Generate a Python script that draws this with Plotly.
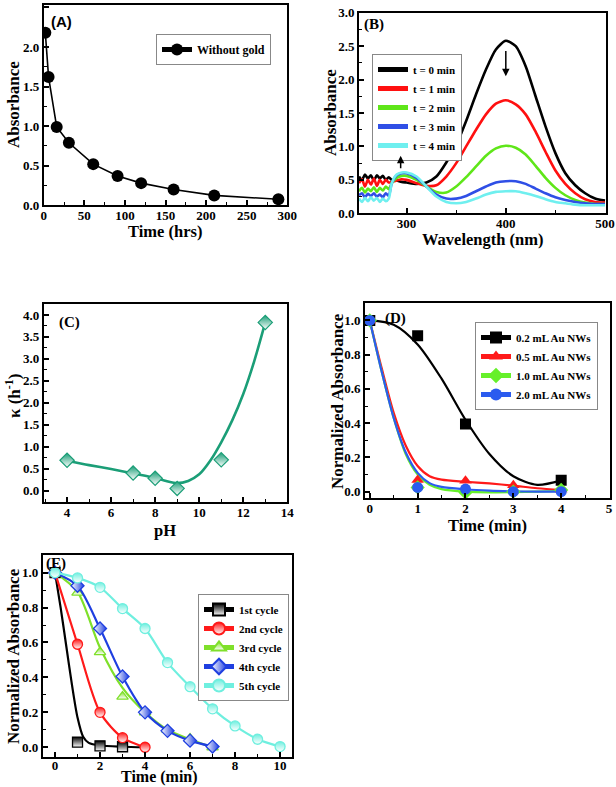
import plotly.graph_objects as go

# ---------------- data ----------------
# (A) Absorbance vs time without gold
a_time = [2, 6, 16, 31, 61, 91, 120, 160, 210, 289]
a_abs = [2.18, 1.62, 0.99, 0.79, 0.52, 0.37, 0.28, 0.20, 0.125, 0.076]

# (B) UV-vis spectra
b_wl = [252, 255, 258, 261, 264, 267, 270, 273, 276, 279, 282, 285, 290, 295, 300,
        310, 320, 330, 340, 350, 360, 370, 380, 390, 400, 410, 420, 430, 440, 450,
        460, 470, 480, 490, 500]
b_t0 = [0.55, 0.50, 0.58, 0.52, 0.57, 0.49, 0.57, 0.52, 0.56, 0.50, 0.54, 0.50, 0.49, 0.47, 0.46,
        0.44, 0.46, 0.55, 0.76, 1.02, 1.38, 1.78, 2.15, 2.45, 2.58, 2.50, 2.20, 1.75, 1.30, 0.90,
        0.60, 0.42, 0.30, 0.22, 0.19]
b_t1 = [0.45, 0.51, 0.40, 0.50, 0.43, 0.52, 0.41, 0.50, 0.44, 0.50, 0.46, 0.47, 0.49, 0.51, 0.50,
        0.45, 0.41, 0.42, 0.55, 0.75, 1.00, 1.25, 1.48, 1.64, 1.69, 1.63, 1.48, 1.22, 0.92, 0.64,
        0.44, 0.30, 0.21, 0.17, 0.16]
b_t2 = [0.33, 0.38, 0.31, 0.37, 0.33, 0.39, 0.32, 0.38, 0.34, 0.40, 0.36, 0.45, 0.53, 0.56, 0.56,
        0.50, 0.40, 0.32, 0.31, 0.40, 0.54, 0.70, 0.86, 0.97, 1.01, 0.98, 0.88, 0.71, 0.53, 0.38,
        0.27, 0.20, 0.16, 0.14, 0.14]
b_t3 = [0.27, 0.30, 0.24, 0.29, 0.26, 0.30, 0.25, 0.28, 0.24, 0.30, 0.26, 0.45, 0.57, 0.60, 0.60,
        0.53, 0.40, 0.28, 0.22, 0.22, 0.26, 0.33, 0.40, 0.46, 0.48, 0.48, 0.44, 0.37, 0.30, 0.24,
        0.20, 0.17, 0.15, 0.14, 0.14]
b_t4 = [0.22, 0.17, 0.23, 0.18, 0.24, 0.19, 0.23, 0.17, 0.22, 0.18, 0.22, 0.45, 0.58, 0.61, 0.61,
        0.55, 0.40, 0.25, 0.17, 0.15, 0.17, 0.22, 0.28, 0.32, 0.33, 0.33, 0.30, 0.26, 0.21, 0.17,
        0.15, 0.13, 0.12, 0.12, 0.12]
b_names = ["t = 0 min", "t = 1 min", "t = 2 min", "t = 3 min", "t = 4 min"]

# (C) rate constant vs pH
c_ph = [4, 7, 8, 9, 11, 13]
c_k = [0.69, 0.40, 0.28, 0.05, 0.70, 3.83]
c_fit_ph = [4, 5, 6, 7, 8, 8.5, 9, 9.5, 10, 10.5, 11, 11.5, 12, 12.5, 13]
c_fit_k = [0.68, 0.58, 0.49, 0.39, 0.29, 0.22, 0.17, 0.22, 0.37, 0.68, 1.10, 1.60, 2.20, 2.95, 3.83]

# (D) normalized absorbance for different Au NW amounts
d_names = ["0.2 mL Au NWs", "0.5 mL Au NWs", "1.0 mL Au NWs", "2.0 mL Au NWs"]
d02_t = [0, 1, 2, 4]
d02 = [1.0, 0.91, 0.395, 0.066]
d_t = [0, 1, 2, 3, 4]
d05 = [1.0, 0.068, 0.064, 0.037, 0.012]
d10 = [1.0, 0.025, -0.005, 0.0, 0.01]
d20 = [1.0, 0.025, 0.015, 0.0, 0.0]
d02_fit_t = [0, 0.5, 1, 1.5, 2, 2.5, 3, 3.5, 4]
d02_fit = [1.0, 0.975, 0.86, 0.66, 0.42, 0.22, 0.09, 0.04, 0.066]
d_fit_t = [0, 0.25, 0.5, 0.75, 1, 1.25, 1.5, 2, 2.5, 3, 3.5, 4]
d05_fit = [1.0, 0.72, 0.46, 0.27, 0.15, 0.09, 0.07, 0.058, 0.048, 0.035, 0.02, 0.01]
d10_fit = [1.0, 0.70, 0.43, 0.22, 0.10, 0.04, 0.015, 0.0, -0.004, -0.003, 0.0, 0.004]
d20_fit = [1.0, 0.70, 0.43, 0.23, 0.11, 0.05, 0.028, 0.014, 0.006, 0.002, 0.0, 0.0]

# (E) recycling
e_names = ["1st cycle", "2nd cycle", "3rd cycle", "4th cycle", "5th cycle"]
e1_t = [0, 1, 2, 3]
e1 = [1.0, 0.03, 0.008, 0.003]
e1_fit_t = [0, 0.25, 0.5, 0.75, 1, 1.25, 1.5, 2, 3, 4]
e1_fit = [1.0, 0.80, 0.58, 0.36, 0.17, 0.06, 0.025, 0.01, 0.003, 0.0]
e2_t = [0, 1, 2, 3, 4]
e2 = [1.0, 0.59, 0.20, 0.055, 0.0]
e3_t = [0, 1, 2, 3, 4, 5, 6, 7]
e3 = [1.0, 0.885, 0.545, 0.29, 0.20, 0.10, 0.05, 0.0]
e3_fit = [1.0, 0.89, 0.57, 0.34, 0.20, 0.10, 0.045, 0.0]
e4_t = [0, 1, 2, 3, 4, 5, 6, 7]
e4 = [1.0, 0.925, 0.68, 0.405, 0.20, 0.094, 0.038, 0.004]
e5_t = [0, 1, 2, 3, 4, 5, 6, 7, 8, 9, 10]
e5 = [1.0, 0.97, 0.916, 0.794, 0.68, 0.485, 0.347, 0.22, 0.122, 0.046, 0.004]

# ---------------- layout helpers ----------------
W, H = 616, 787
SERIF = "Liberation Serif"
SANS = "Liberation Sans"


def dx(l, r):
    return [l / W, r / W]


def dy(t, b):
    return [1 - b / H, 1 - t / H]


def px(x):
    return x / W


def py(y):
    return 1 - y / H


fig = go.Figure()

# ---- (A)
fig.add_trace(go.Scatter(x=a_time, y=a_abs, mode="lines+markers", name="Without gold",
                         line=dict(color="black", width=1.6),
                         marker=dict(color="black", size=12, symbol="circle"),
                         xaxis="x", yaxis="y", legend="legend"))

# ---- (B)
b_cols = ["#000000", "#FF1010", "#5FE619", "#2F4FE6", "#6FEFEF"]
for vals, name, col in zip([b_t0, b_t1, b_t2, b_t3, b_t4], b_names, b_cols):
    fig.add_trace(go.Scatter(x=b_wl, y=vals, mode="lines", name=name,
                             line=dict(color=col, width=2.6, shape="spline", smoothing=0.7),
                             xaxis="x2", yaxis="y2", legend="legend2"))

# ---- (C)
c_col = "#1B9E77"
fig.add_trace(go.Scatter(x=c_fit_ph, y=c_fit_k, mode="lines", showlegend=False,
                         line=dict(color=c_col, width=2.6, shape="spline", smoothing=0.8),
                         xaxis="x3", yaxis="y3"))
fig.add_trace(go.Scatter(x=c_ph, y=c_k, mode="markers", showlegend=False,
                         marker=dict(symbol="diamond", size=11, color=c_col,
                                     gradient=dict(type="vertical", color="white"),
                                     line=dict(color=c_col, width=1.2)),
                         xaxis="x3", yaxis="y3"))

# ---- (D)
d_cols = ["#000000", "#FF1A1A", "#66F02A", "#2B5BEF"]
d_syms = ["square", "triangle-up", "diamond", "circle"]
d_pts = [(d02_t, d02), (d_t, d05), (d_t, d10), (d_t, d20)]
d_fits = [(d02_fit_t, d02_fit), (d_fit_t, d05_fit), (d_fit_t, d10_fit), (d_fit_t, d20_fit)]
for (ft, fv), col in zip(d_fits, d_cols):
    fig.add_trace(go.Scatter(x=ft, y=fv, mode="lines", showlegend=False,
                             line=dict(color=col, width=2.2, shape="spline", smoothing=0.8),
                             xaxis="x4", yaxis="y4"))
for (pt, pv), col, sym in zip(d_pts, d_cols, d_syms):
    fig.add_trace(go.Scatter(x=pt, y=pv, mode="markers", showlegend=False,
                             marker=dict(symbol=sym, size=11, color=col),
                             xaxis="x4", yaxis="y4"))
for name, col, sym in zip(d_names, d_cols, d_syms):
    fig.add_trace(go.Scatter(x=[None], y=[None], mode="lines+markers", name=name,
                             line=dict(color=col, width=2.2),
                             marker=dict(symbol=sym, size=10, color=col),
                             xaxis="x4", yaxis="y4", legend="legend3"))

# ---- (E)
e_cols = ["#000000", "#FF1A1A", "#7FE02A", "#1F3FE0", "#6FEFDF"]
e_syms = ["square", "circle", "triangle-up", "diamond", "circle"]
e_grad = ["vertical", "vertical", "vertical", "horizontal", "vertical"]


def e_marker(sym, col, gr):
    if gr == "horizontal":
        return dict(symbol=sym, size=10, color="white",
                    gradient=dict(type="horizontal", color=col),
                    line=dict(color=col, width=1.3))
    return dict(symbol=sym, size=10, color=col,
                gradient=dict(type="vertical", color="white"),
                line=dict(color=col, width=1.3))


# fitted lines for 1st and 3rd cycles
fig.add_trace(go.Scatter(x=e1_fit_t, y=e1_fit, mode="lines", showlegend=False,
                         line=dict(color=e_cols[0], width=2.2, shape="spline", smoothing=0.8),
                         xaxis="x5", yaxis="y5"))
fig.add_trace(go.Scatter(x=e3_t, y=e3_fit, mode="lines", showlegend=False,
                         line=dict(color=e_cols[2], width=2.2, shape="spline", smoothing=0.8),
                         xaxis="x5", yaxis="y5"))
e_sets = [(e1_t, e1, "markers"), (e2_t, e2, "lines+markers"), (e3_t, e3, "markers"),
          (e4_t, e4, "lines+markers"), (e5_t, e5, "lines+markers")]
for (et, ev, mode), col, sym, gr in zip(e_sets, e_cols, e_syms, e_grad):
    fig.add_trace(go.Scatter(x=et, y=ev, mode=mode, showlegend=False,
                             line=dict(color=col, width=2.2, shape="spline", smoothing=0.8),
                             marker=e_marker(sym, col, gr), xaxis="x5", yaxis="y5"))
for name, col, sym, gr in zip(e_names, e_cols, e_syms, e_grad):
    fig.add_trace(go.Scatter(x=[None], y=[None], mode="lines+markers", name=name,
                             line=dict(color=col, width=2.2), marker=e_marker(sym, col, gr),
                             xaxis="x5", yaxis="y5", legend="legend4"))

# ---------------- axes ----------------
tickfont = dict(family=SERIF, size=13, color="black", weight="bold")


def ax(domain, rng, dtick, minor_dtick, anchor, fmt=None, standoff=0):
    d = dict(domain=domain, range=rng, dtick=dtick, tick0=0, anchor=anchor,
             showline=True, linecolor="black", linewidth=1.8, mirror=True,
             ticks="inside", ticklen=5, tickwidth=1.5, tickcolor="black",
             showgrid=False, zeroline=False, tickfont=tickfont, automargin=False,
             ticklabelstandoff=standoff,
             minor=dict(dtick=minor_dtick, tick0=0, ticks="inside", ticklen=3,
                        tickwidth=1.2, tickcolor="black", showgrid=False))
    if fmt:
        d["tickformat"] = fmt
    return d


layout_axes = dict(
    xaxis=ax(dx(43.7, 287.3), [0, 300], 50, 25, "y", standoff=-3),
    yaxis=ax(dy(5, 205.3), [0, 2.53], 0.5, 0.25, "x", ".1f"),
    xaxis2=ax(dx(359, 606), [252, 501], 100, 50, "y2", standoff=-3),
    yaxis2=ax(dy(12.7, 213.3), [0, 3.0], 0.5, 0.25, "x2", ".1f"),
    xaxis3=ax(dx(43.7, 287.3), [2.94, 14.0], 2, 1, "y3", standoff=-3),
    yaxis3=ax(dy(304, 502), [-0.26, 4.25], 0.5, 0.25, "x3", ".1f"),
    xaxis4=ax(dx(365, 610), [-0.1, 5.02], 1, 0.5, "y4", standoff=-3),
    yaxis4=ax(dy(303.3, 498), [-0.037, 1.1], 0.2, 0.1, "x4", ".1f"),
    xaxis5=ax(dx(42.7, 292), [-0.547, 10.53], 2, 1, "y5", standoff=-4),
    yaxis5=ax(dy(555, 756.7), [-0.054, 1.101], 0.2, 0.1, "x5", ".1f"),
)


# ---------------- legends ----------------
def leg(x, y, size=11, anchor="left"):
    return dict(x=px(x), y=py(y), xanchor=anchor, yanchor="top",
                bgcolor="white", bordercolor="#888888", borderwidth=1,
                font=dict(family=SERIF, size=size, color="black", weight="bold"),
                tracegroupgap=0, itemsizing="constant")


legends = dict(
    legend=leg(156, 34, 12),
    legend2=leg(372, 54, 11),
    legend3=leg(598, 322, 11, "right"),
    legend4=leg(198, 594, 11),
)

# ---------------- annotations (axis titles & panel labels) ----------------
annots = []


def title(text, x, y, size=17, angle=0):
    annots.append(dict(text=text, x=px(x), y=py(y), xref="paper", yref="paper",
                       showarrow=False, textangle=angle, xanchor="center", yanchor="middle",
                       font=dict(family=SERIF, size=size, color="black", weight="bold")))


title("Absorbance", 13, 105, 17, -90)
title("Time (hrs)", 165, 231, 16.5)
title("Absorbance", 330, 113, 17, -90)
title("Wavelength (nm)", 482, 239, 16.5)
title("κ (h<sup>-1</sup>)", 13, 396, 17, -90)
title("pH", 165, 530, 16.5)
title("Normalized Absorbance", 338, 401, 17, -90)
title("Time (min)", 487, 525, 16.5)
title("Normalized Absorbance", 13, 656, 17, -90)
title("Time (min)", 160, 776.5, 16)


def plabel(text, x, y, fam=SERIF):
    annots.append(dict(text=text, x=px(x), y=py(y), xref="paper", yref="paper",
                       showarrow=False, xanchor="left", yanchor="middle",
                       font=dict(family=fam, size=15, color="black", weight="bold")))


plabel("(A)", 49, 22, SANS)
plabel("(B)", 362, 25)
plabel("(C)", 57, 322)
plabel("(D)", 383, 318)
plabel("(E)", 44, 563)

# arrows in (B)
annots.append(dict(x=400, y=2.05, ax=400, ay=2.45, xref="x2", yref="y2", axref="x2", ayref="y2",
                   text="", showarrow=True, arrowhead=2, arrowsize=1, arrowwidth=1.5,
                   arrowcolor="black"))
annots.append(dict(x=294, y=0.86, ax=294, ay=0.65, xref="x2", yref="y2", axref="x2", ayref="y2",
                   text="", showarrow=True, arrowhead=2, arrowsize=1, arrowwidth=1.5,
                   arrowcolor="black"))

fig.update_layout(
    width=W, height=H, margin=dict(l=0, r=0, t=0, b=0, autoexpand=False),
    paper_bgcolor="white", plot_bgcolor="white",
    annotations=annots, **layout_axes, **legends,
)

fig.write_html("out.html", config={"displayModeBar": False},
               post_script="document.body.style.margin='0px';"
                           "document.body.style.overflow='hidden';")
